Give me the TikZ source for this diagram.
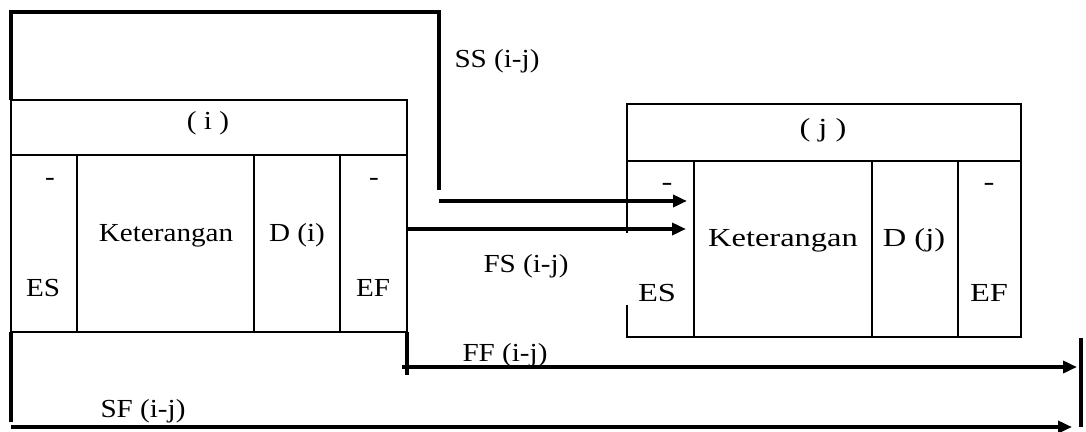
\documentclass[tikz,border=0pt]{standalone}
\usepackage{fontspec}
\setmainfont{Liberation Serif}[FakeStretch=1.12]
\newfontfamily\widefont{Liberation Serif}[FakeStretch=1.25]
\usetikzlibrary{arrows.meta}

\begin{document}
\begin{tikzpicture}[x=1pt,y=-1pt,>={Triangle[length=14pt,width=12pt]},
  cell/.style={draw,line width=2pt,inner sep=0pt,outer sep=0pt,anchor=north west},
  bare/.style={inner sep=0pt,outer sep=0pt,anchor=north west},
  lnk/.style={line width=3.5pt},
  lbl/.style={anchor=base,inner sep=0pt,font=\fontsize{26}{30}\selectfont},
  lblj/.style={anchor=base,inner sep=0pt,font=\widefont\fontsize{26}{30}\selectfont}]
\useasboundingbox (0,0) rectangle (1086,431);
\node[cell,minimum width=396pt,minimum height=55pt] (ihead) at (11,100) {};
\node[cell,minimum width=66pt,minimum height=177pt] (ies) at (11,155) {};
\node[cell,minimum width=177pt,minimum height=177pt] (iket) at (ies.north east) {};
\node[cell,minimum width=86pt,minimum height=177pt] (idur) at (iket.north east) {};
\node[cell,minimum width=67pt,minimum height=177pt] (ief) at (idur.north east) {};
\node[lbl] (ihead-txt) at (208,129) {( i )};
\node[lbl] (ies-top) at (50,185) {-};
\node[lbl] (ies-txt) at (43,296) {ES};
\node[lbl] (iket-txt) at (166,241) {Keterangan};
\node[lbl] (idur-txt) at (297,241) {D (i)};
\node[lbl] (ief-top) at (374,185) {-};
\node[lbl] (ief-txt) at (373,296) {EF};
\node[cell,minimum width=394pt,minimum height=57pt] (jhead) at (627,104) {};
\node[bare,minimum width=67pt,minimum height=176pt] (jes) at (627,161) {};
\node[cell,minimum width=178pt,minimum height=176pt] (jket) at (jes.north east) {};
\node[cell,minimum width=86pt,minimum height=176pt] (jdur) at (jket.north east) {};
\node[cell,minimum width=63pt,minimum height=176pt] (jef) at (jdur.north east) {};
\draw[line width=2pt] (jes.north west) -- ++(0,72) (jes.south east) -- (jes.south west) -- ++(0,-32);
\node[lblj] (jhead-txt) at (823,136) {( j )};
\node[lblj] (jes-top) at (667,190) {-};
\node[lblj] (jes-txt) at (657,301) {ES};
\node[lblj] (jket-txt) at (783,246) {Keterangan};
\node[lblj] (jdur-txt) at (914,246) {D (j)};
\node[lblj] (jef-top) at (989,190) {-};
\node[lblj] (jef-txt) at (989,301) {EF};
\coordinate (ss-top) at (439,12);
\coordinate (ss-end) at (439,190);
\coordinate (ss-from) at (439,201);
\coordinate (ss-tip) at (687,201);
\draw[lnk] (ihead.north west) |- (ss-top) -- (ss-end);
\draw[lnk,->] (ss-from) -- (ss-tip);
\node[lbl] (ss-lbl) at (497,67) {SS (i-j)};
\coordinate (fs-tip) at (686,229);
\draw[lnk,->] (ief.east |- fs-tip) -- (fs-tip);
\node[lbl] (fs-lbl) at (526,272) {FS (i-j)};
\coordinate (ff-low) at (407,375);
\coordinate (ff-from) at (402,367);
\coordinate (ff-tip) at (1077,367);
\draw[lnk] (ief.south east) -- (ff-low);
\draw[lnk,->] (ff-from) -- (ff-tip);
\node[lbl] (ff-lbl) at (505,361) {FF (i-j)};
\coordinate (bar-top) at (1081,338);
\coordinate (bar-bot) at (1081,427);
\draw[lnk] (bar-top) -- (bar-bot);
\coordinate (sf-low) at (11,422);
\coordinate (sf-from) at (11,427);
\coordinate (sf-tip) at (1072,427);
\draw[lnk] (ies.south west) -- (sf-low);
\draw[lnk,->] (sf-from) -- (sf-tip);
\node[lbl] (sf-lbl) at (143,417) {SF (i-j)};
\end{tikzpicture}
\end{document}
